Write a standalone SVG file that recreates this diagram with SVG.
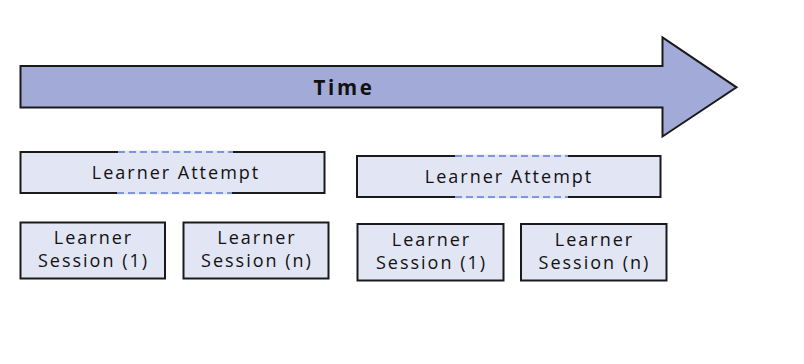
<svg xmlns="http://www.w3.org/2000/svg" width="804" height="364" viewBox="0 0 804 364">
<style>
.box{fill:#e2e5f4;stroke:#1a1a1a;stroke-width:2}
.dash{stroke:#8096dc;stroke-width:2;stroke-dasharray:7 4;fill:none}
.t{font-family:"Open Sans","Liberation Sans",sans-serif;font-size:18px;fill:#111;letter-spacing:2px;text-anchor:middle}
.tb{font-family:"Open Sans","Liberation Sans",sans-serif;font-size:20.5px;font-weight:bold;fill:#111;letter-spacing:2.6px;text-anchor:middle}
</style>
<rect width="804" height="364" fill="#ffffff"/>
<g id="time-arrow">
<path d="M20.5,66 L662.5,66 L662.5,37.5 L736.5,87.3 L662.5,136.5 L662.5,107.5 L20.5,107.5 Z" fill="#a2aad8" stroke="#1a1a1a" stroke-width="2" stroke-linejoin="miter"/>
<text class="tb" x="344" y="95">Time</text>
</g>
<g id="attempt1">
<rect class="box" x="20.5" y="152" width="304" height="41"/>
<line x1="118" y1="152" x2="233" y2="152" stroke="#e2e5f4" stroke-width="3"/>
<line x1="117" y1="193" x2="232" y2="193" stroke="#e2e5f4" stroke-width="3"/>
<line class="dash" x1="118" y1="152" x2="233" y2="152"/>
<line class="dash" x1="117" y1="193" x2="232" y2="193"/>
<text class="t" x="176" y="178.5">Learner Attempt</text>
</g>
<g id="attempt2">
<rect class="box" x="357" y="156" width="303.5" height="41"/>
<line x1="455" y1="156" x2="568" y2="156" stroke="#e2e5f4" stroke-width="3"/>
<line x1="455" y1="197" x2="568" y2="197" stroke="#e2e5f4" stroke-width="3"/>
<line class="dash" x1="455" y1="156" x2="568" y2="156"/>
<line class="dash" x1="455" y1="197" x2="568" y2="197"/>
<text class="t" x="509" y="183">Learner Attempt</text>
</g>
<g id="session1a">
<rect class="box" x="20.5" y="222.5" width="144.5" height="56"/>
<text class="t" x="93.5" y="244">Learner</text>
<text class="t" x="93.5" y="267">Session (1)</text>
</g>
<g id="session1n">
<rect class="box" x="183.5" y="222.5" width="145" height="56"/>
<text class="t" x="257" y="244">Learner</text>
<text class="t" x="257" y="267">Session (n)</text>
</g>
<g id="session2a">
<rect class="box" x="357.5" y="224" width="146" height="56.5"/>
<text class="t" x="431.5" y="246">Learner</text>
<text class="t" x="431.5" y="269">Session (1)</text>
</g>
<g id="session2n">
<rect class="box" x="521" y="224" width="145.5" height="56.5"/>
<text class="t" x="594.5" y="246">Learner</text>
<text class="t" x="594.5" y="269">Session (n)</text>
</g>
<g id="connectors"></g>
</svg>
